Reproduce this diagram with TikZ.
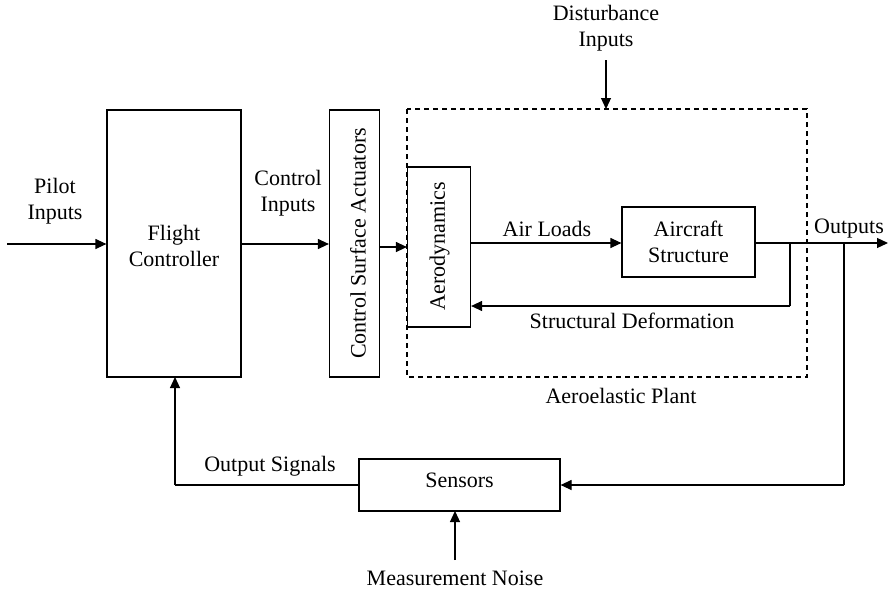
\documentclass[tikz,border=0pt]{standalone}
\usepackage{fontspec}
\setmainfont{Liberation Serif}
\usetikzlibrary{arrows.meta}
\begin{document}
\begin{tikzpicture}[x=1pt,y=-1pt,
  line width=1.2pt,
  every node/.style={font=\fontsize{22}{26}\selectfont, inner sep=0pt},
  blk/.style={draw, line width=1.2pt, align=center},
  lbl/.style={align=center},
  bl/.style={anchor=base},
  arr/.style={-{Triangle[length=11pt,width=10pt]}}]
\path[use as bounding box] (0,0) rectangle (888,589);
% blocks
\node[blk, minimum width=134pt, minimum height=267pt] (fc) at (174,243.5) {};
\node[lbl] (fct) at (174,246) {Flight\\Controller};
\node[blk, minimum width=50pt, minimum height=267pt] (csa) at (354.5,243.5) {};
\node[rotate=90] (csat) at (358,243.5) {Control Surface Actuators};
\draw[dash pattern=on 5pt off 4pt, line width=1.1pt] (407,109) rectangle (807,377);
\node[blk, minimum width=63pt, minimum height=160pt] (aero) at (439,247) {};
\node[rotate=90] (aerot) at (439.5,246) {Aerodynamics};
\node[blk, minimum width=133pt, minimum height=70pt] (as) at (688.5,242) {Aircraft\\Structure};
\node[blk, minimum width=201pt, minimum height=52pt] (sen) at (459.5,485) {};
\node[bl] (sent) at (459.5,487) {Sensors};
% coordinates
\coordinate (pin) at (7,244);
\coordinate (dtop) at (606,60);
\coordinate (dbot) at (606,109);
\coordinate (fb) at (790,243);
\coordinate (fbd) at (790,306);
\coordinate (br) at (844,243);
\coordinate (brd) at (844,485);
\coordinate (out) at (888,243);
\coordinate (fcb) at (175,377);
\coordinate (fcd) at (175,485);
\coordinate (nz) at (455,560);
\coordinate (nzt) at (455,511);
% connectors
\draw[arr] (pin) -- (fc.west |- pin);
\draw[arr] (fc.east |- 0,244) -- (csa.west |- 0,244);
\draw[arr] (csa.east |- 0,247) -- (aero.west |- 0,247);
\draw[arr] (aero.east |- 0,243) -- (as.west |- 0,243);
\draw[arr] (as.east |- 0,243) -- (out);
\draw (fb) -- (fbd);
\draw[arr] (fbd) -- (aero.east |- fbd);
\draw (br) -- (brd);
\draw[arr] (brd) -- (sen.east |- brd);
\draw (sen.west |- fcd) -- (fcd);
\draw[arr] (fcd) -- (fcb);
\draw[arr] (nz) -- (nzt);
\draw[arr] (dtop) -- (dbot);
% labels
\node[lbl] (pil) at (55,201) {Pilot\\Inputs};
\node[lbl] (cin) at (288,193.5) {Control\\Inputs};
\node[lbl] (din) at (606,28.5) {Disturbance\\Inputs};
\node[bl] (al) at (547,236) {Air Loads};
\node[bl] (sd) at (632,328) {Structural Deformation};
\node[bl] (outl) at (849,233) {Outputs};
\node[bl] (ap) at (621,403) {Aeroelastic Plant};
\node[bl] (os) at (270,471) {Output Signals};
\node[bl] (mn) at (455,585) {Measurement Noise};
\end{tikzpicture}
\end{document}
